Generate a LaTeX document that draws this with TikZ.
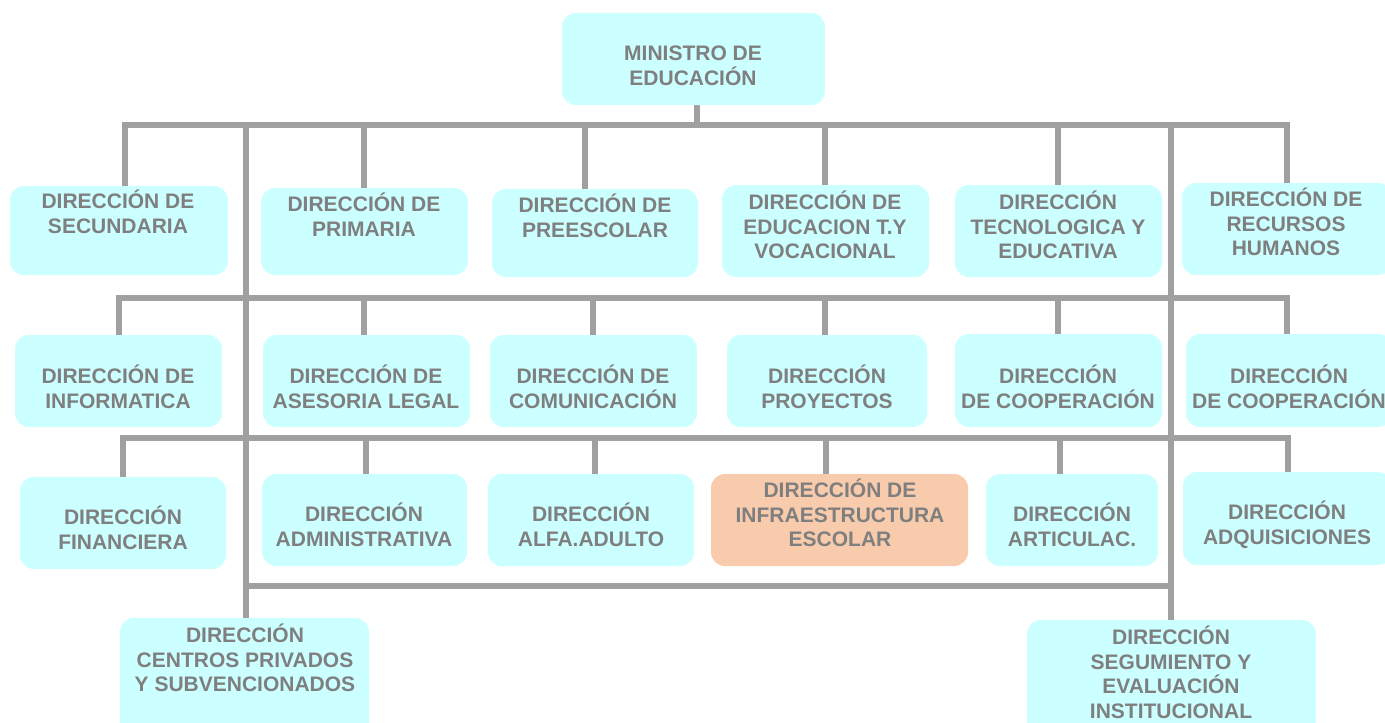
\documentclass[tikz,border=0pt]{standalone}
\usepackage{fontspec}
\setmainfont{Liberation Sans}
\usetikzlibrary{backgrounds}
\definecolor{boxfill}{HTML}{CCFFFF}
\definecolor{hilite}{HTML}{F8CBAD}
\definecolor{txtgray}{HTML}{7F7F7F}
\definecolor{linegray}{HTML}{A0A0A0}
\newcommand\obox[6]{%
  \node[box,#6,minimum width={(#4-#2)*1pt},minimum height={(#5-#3)*1pt}] (#1) at ({(#2+#4)/2},{(#3+#5)/2}) {};}
\begin{document}
\begin{tikzpicture}[x=1pt,y=-1pt,
  box/.style={rectangle,rounded corners=14pt,fill=boxfill,draw=none,inner sep=0pt},
  hbox/.style={fill=hilite},
  txt/.style={anchor=base,align=center,inner sep=0pt,text=txtgray,font=\bfseries\fontsize{21}{24.5}\selectfont},
  conn/.style={draw=linegray,line width=6pt,line join=miter,line cap=rect}]
\useasboundingbox (0,0) rectangle (1385,723);
\clip (0,0) rectangle (1385,723);
% boxes
\obox{min}{562}{13}{825}{105}{}
\obox{sec}{10}{186}{228}{275}{}
\obox{pri}{261}{188}{468}{275}{}
\obox{pre}{492}{189}{698}{277}{}
\obox{edu}{722}{185}{929}{277}{}
\obox{tec}{955}{185}{1162}{277}{}
\obox{rec}{1182}{183}{1392}{275}{}
\obox{inf}{15}{335}{222}{427}{}
\obox{ase}{263}{335}{470}{427}{}
\obox{com}{490}{335}{697}{427}{}
\obox{pro}{727}{335}{927}{427}{}
\obox{coa}{955}{334}{1162}{427}{}
\obox{cob}{1186}{334}{1392}{427}{}
\obox{fin}{20}{477}{226}{569}{}
\obox{adm}{262}{474}{467}{566}{}
\obox{alf}{488}{474}{694}{566}{}
\obox{infra}{711}{474}{968}{566}{hbox}
\obox{art}{986}{474}{1158}{566}{}
\obox{adq}{1183}{472}{1392}{565}{}
\obox{cen}{120}{618}{369}{740}{}
\obox{seg}{1027}{620}{1316}{740}{}
% texts (anchor = baseline of last line)
\node[txt] (tmin) at (693,85) {MINISTRO DE\\EDUCACIÓN};
\node[txt] (tsec) at (118,233) {DIRECCIÓN DE\\SECUNDARIA};
\node[txt] (tpri) at (364,236) {DIRECCIÓN DE\\PRIMARIA};
\node[txt] (tpre) at (595,237) {DIRECCIÓN DE\\PREESCOLAR};
\node[txt] (tedu) at (825,258.5) {DIRECCIÓN DE\\EDUCACION T.Y\\VOCACIONAL};
\node[txt] (ttec) at (1058,258.5) {DIRECCIÓN\\TECNOLOGICA Y\\EDUCATIVA};
\node[txt] (trec) at (1286,255.5) {DIRECCIÓN DE\\RECURSOS\\HUMANOS};
\node[txt] (tinf) at (118,408) {DIRECCIÓN DE\\INFORMATICA};
\node[txt] (tase) at (366,408) {DIRECCIÓN DE\\ASESORIA LEGAL};
\node[txt] (tcom) at (593,408) {DIRECCIÓN DE\\COMUNICACIÓN};
\node[txt] (tpro) at (827,408) {DIRECCIÓN\\PROYECTOS};
\node[txt] (tcoa) at (1058,408) {DIRECCIÓN\\DE COOPERACIÓN};
\node[txt] (tcob) at (1289,408) {DIRECCIÓN\\DE COOPERACIÓN};
\node[txt] (tfin) at (123,549) {DIRECCIÓN\\FINANCIERA};
\node[txt] (tadm) at (364,546) {DIRECCIÓN\\ADMINISTRATIVA};
\node[txt] (talf) at (591,546) {DIRECCIÓN\\ALFA.ADULTO};
\node[txt] (tinfra) at (840,546.5) {DIRECCIÓN DE\\INFRAESTRUCTURA\\ESCOLAR};
\node[txt] (tart) at (1072,546) {DIRECCIÓN\\ARTICULAC.};
\node[txt] (tadq) at (1287,544) {DIRECCIÓN\\ADQUISICIONES};
\node[txt] (tcen) at (245,691.5) {DIRECCIÓN\\CENTROS PRIVADOS\\Y SUBVENCIONADOS};
\node[txt] (tseg) at (1171,718) {DIRECCIÓN\\SEGUMIENTO Y\\EVALUACIÓN\\INSTITUCIONAL};
% bus coordinates
\coordinate (b1L) at (125,125); \coordinate (b1R) at (1287,125);
\coordinate (b2L) at (119,298); \coordinate (b2R) at (1287,298);
\coordinate (b3L) at (123,438); \coordinate (b3R) at (1288,438);
\coordinate (b4L) at (246,586); \coordinate (b4R) at (1171,586);
\coordinate (vL) at (246,125); \coordinate (vR) at (1171,125);
\coordinate (m1) at (697,125);
\coordinate (p1) at (364,125); \coordinate (p2) at (585,125); \coordinate (p3) at (825,125); \coordinate (p4) at (1058,125);
\coordinate (q1) at (364,298); \coordinate (q2) at (593,298); \coordinate (q3) at (825,298); \coordinate (q4) at (1058,298);
\coordinate (r1) at (366,438); \coordinate (r2) at (595,438); \coordinate (r3) at (826,438); \coordinate (r4) at (1060,438);
\begin{scope}[on background layer]
\draw[conn] (m1 |- min.south) -- (m1);
\draw[conn] (b1L |- sec.north) -- (b1L) -- (b1R) -- (b1R |- rec.north);
\draw[conn] (p1) -- (p1 |- pri.north);
\draw[conn] (p2) -- (p2 |- pre.north);
\draw[conn] (p3) -- (p3 |- edu.north);
\draw[conn] (p4) -- (p4 |- tec.north);
\draw[conn] (b2L |- inf.north) -- (b2L) -- (b2R) -- (b2R |- cob.north);
\draw[conn] (q1) -- (q1 |- ase.north);
\draw[conn] (q2) -- (q2 |- com.north);
\draw[conn] (q3) -- (q3 |- pro.north);
\draw[conn] (q4) -- (q4 |- coa.north);
\draw[conn] (b3L |- fin.north) -- (b3L) -- (b3R) -- (b3R |- adq.north);
\draw[conn] (r1) -- (r1 |- adm.north);
\draw[conn] (r2) -- (r2 |- alf.north);
\draw[conn] (r3) -- (r3 |- infra.north);
\draw[conn] (r4) -- (r4 |- art.north);
\draw[conn] (vL) -- (vL |- cen.north);
\draw[conn] (vR) -- (vR |- seg.north);
\draw[conn] (b4L) -- (b4R);
\end{scope}
\end{tikzpicture}
\end{document}
